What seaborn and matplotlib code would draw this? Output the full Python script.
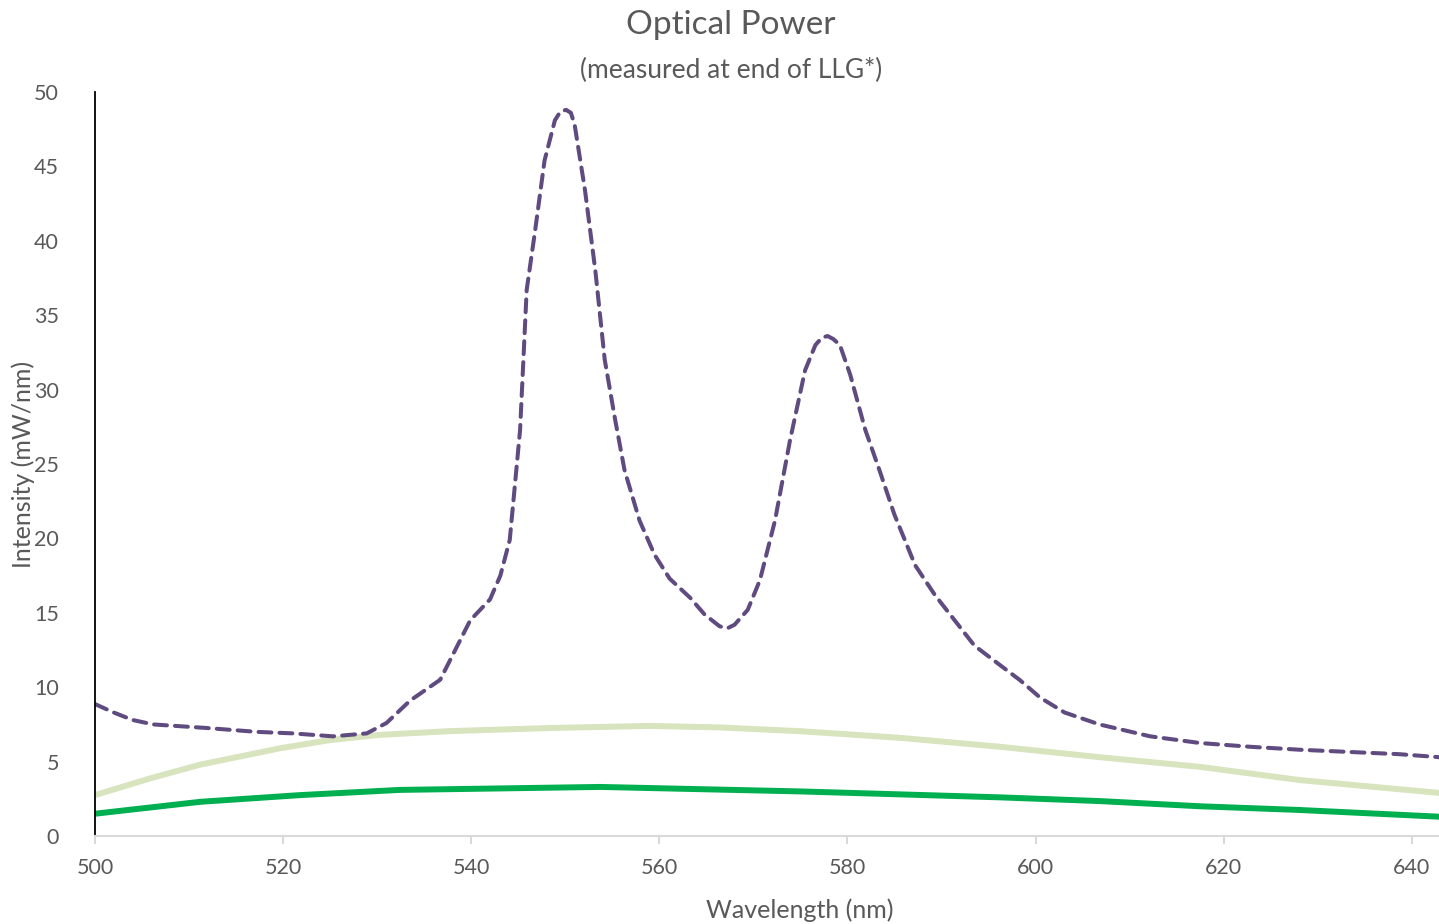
import matplotlib
matplotlib.use("Agg")
import matplotlib.pyplot as plt
import seaborn as sns

# Spectrum measured at the end of the liquid light guide
peak_wl = [500, 502, 504, 506.2, 511.9, 517.2, 521, 525.3, 528.9, 531, 533.5, 536.7,
           539.9, 542, 543.1, 544.1, 545.2, 545.9, 546.8, 547.8, 548.9, 549.5, 550.1,
           550.6, 551, 552.1, 553.2, 554.2, 555.3, 556.3, 557.9, 559.5, 561.1, 563.3,
           564.8, 566.4, 567.2, 568, 569.4, 570.7, 572.3, 573.9, 575.5, 576.6, 577.3,
           577.9, 578.5, 579.2, 580.3, 581.9, 583.4, 585, 587.2, 589.3, 591.4, 593.5,
           596.2, 598.3, 600.5, 603.1, 606.8, 612.2, 617.5, 622.8, 628.1, 633.4,
           638.7, 642.9]
peak_int = [8.87, 8.3, 7.8, 7.5, 7.26, 7.0, 6.9, 6.7, 6.9, 7.6, 9.1, 10.5,
            14.5, 15.9, 17.5, 19.9, 27.3, 36.7, 40.7, 45.4, 48.1, 48.7, 48.8,
            48.6, 47.8, 43.4, 38.0, 32.0, 28.0, 24.6, 21.2, 18.9, 17.3, 16.0,
            14.9, 14.1, 13.95, 14.2, 15.2, 17.2, 21.2, 26.6, 31.3, 33.0, 33.5,
            33.6, 33.4, 33.0, 31.0, 27.3, 24.6, 21.6, 18.2, 16.2, 14.5, 12.8,
            11.5, 10.5, 9.3, 8.3, 7.5, 6.7, 6.25, 6.0, 5.8, 5.65, 5.5, 5.3]

broad_wl = [500, 506, 511.2, 519.7, 525, 530.3, 537.7, 548.4, 559, 566.4, 574.9,
            585.6, 596.2, 606.8, 617.5, 628.1, 642.9]
broad_int = [2.75, 3.9, 4.8, 5.9, 6.45, 6.8, 7.05, 7.26, 7.4, 7.3, 7.05,
             6.6, 6.0, 5.3, 4.65, 3.76, 2.9]

low_wl = [500, 511.2, 521.8, 532.4, 543.1, 553.7, 564.3, 574.9, 585.6, 596.2,
          606.8, 617.5, 628.1, 642.9]
low_int = [1.5, 2.3, 2.75, 3.1, 3.2, 3.3, 3.15, 3.0, 2.8, 2.6, 2.35, 2.0, 1.75, 1.3]

x_ticks = [500, 520, 540, 560, 580, 600, 620, 640]
y_ticks = [0, 5, 10, 15, 20, 25, 30, 35, 40, 45, 50]

sns.set_theme(style="white")
plt.rcParams["font.family"] = ["Lato", "DejaVu Sans"]
text_gray = "#595959"

fig = plt.figure(figsize=(14.39, 9.24), dpi=100)
ax = fig.add_axes([0.066, 0.0952, 0.934, 0.8052])

sns.lineplot(x=broad_wl, y=broad_int, ax=ax, color="#D7E4BD", linewidth=4.3,
             solid_capstyle="round")
sns.lineplot(x=low_wl, y=low_int, ax=ax, color="#00B050", linewidth=4.3,
             solid_capstyle="round")
sns.lineplot(x=peak_wl, y=peak_int, ax=ax, color="#5F4B80", linewidth=2.9,
             dashes=False)
ax.lines[-1].set_dashes((3.2, 2))
ax.lines[-1].set_dash_capstyle("round")
ax.lines[-1].set_solid_joinstyle("round")

ax.set_xlim(500, 642.9)
ax.set_ylim(0, 50)
ax.set_xticks(x_ticks)
ax.set_yticks(y_ticks)

for s in ("top", "right"):
    ax.spines[s].set_visible(False)
ax.spines["left"].set_color("black")
ax.spines["left"].set_linewidth(1.3)
ax.spines["bottom"].set_color("#D9D9D9")
ax.spines["bottom"].set_linewidth(1.5)

ax.tick_params(axis="x", bottom=True, length=6, width=1.5, color="#D9D9D9",
               labelsize=15.5, labelcolor=text_gray, pad=10)
ax.tick_params(axis="y", left=False, labelsize=15.5, labelcolor=text_gray, pad=20)

ax.set_xlabel("Wavelength (nm)", fontsize=18, color=text_gray)
ax.set_ylabel("Intensity (mW/nm)", fontsize=18, color=text_gray)
ax.xaxis.set_label_coords(0.5246, -0.084)
ax.yaxis.set_label_coords(-0.0446, 0.5)

fig.text(0.508, 0.973, "Optical Power", ha="center", va="center",
         fontsize=24, color=text_gray)
fig.text(0.508, 0.924, "(measured at end of LLG*)", ha="center", va="center",
         fontsize=19, color=text_gray)

fig.savefig("out.png", dpi=100, facecolor="white")
